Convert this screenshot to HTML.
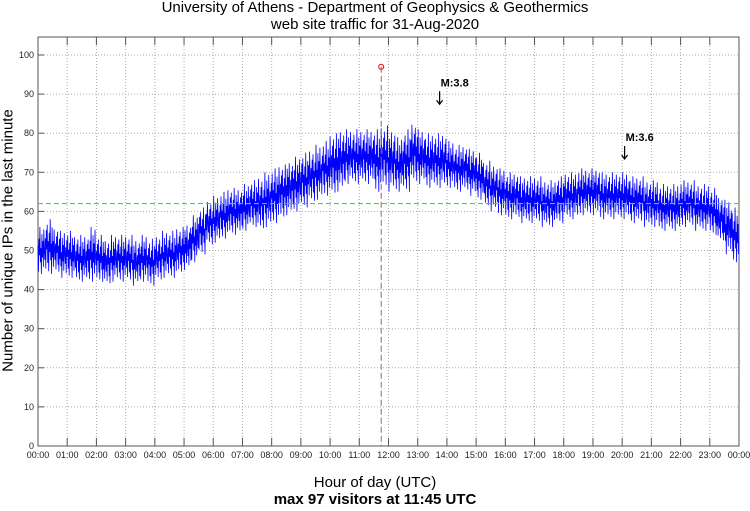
<!DOCTYPE html>
<html><head><meta charset="utf-8"><style>
body{margin:0;background:#fff;}
svg{display:block;font-family:"Liberation Sans",sans-serif;}
</style></head><body>
<svg id="c" width="750" height="511"></svg>
<script>
const hourLabels=["00:00","01:00","02:00","03:00","04:00","05:00","06:00","07:00","08:00","09:00","10:00","11:00","12:00","13:00","14:00","15:00","16:00","17:00","18:00","19:00","20:00","21:00","22:00","23:00","00:00"];
const yTicks=[0,10,20,30,40,50,60,70,80,90,100];
// 15-minute bin means (visitors)
const binMeans=[50,51,50,49, 49,48,48,49, 48,47,48,48, 48,47,48,47, 48,49,49,50, 51,53,55,57,
58,59,60,60, 61,62,62,63, 64,65,66,67, 68,69,70,71, 72,73,74,74, 74,74,73,74,
73,72,73,75, 74,73,73,73, 72,71,71,70, 69,67,66,65, 64,64,63,63, 63,62,62,63,
64,64,65,65, 65,64,64,64, 64,63,63,62, 62,61,61,61, 62,62,61,61, 60,58,56,54];
// 15-minute bin half-spread (noise amplitude)
const binSpread=[6,7,6,6, 6,6,6,7, 6,6,6,6, 6,6,6,6, 6,6,6,6, 6,6,6,6,
6,6,6,6, 6,6,7,7, 7,7,7,7, 7,7,7,7, 8,8,7,7, 7,7,8,8,
8,7,8,8, 7,7,7,7, 6,6,6,6, 6,6,6,6, 6,6,6,6, 6,6,6,6,
6,6,6,6, 6,6,6,6, 6,6,6,6, 6,6,6,6, 6,6,6,6, 6,6,7,7];
const jitterPattern=[0.2,-0.9,0.5,-0.2,1,-0.5,0.1,-1,0.7,-0.3,0.4,-0.7,0.9,0,-0.4,0.3,-0.8,0.6,-0.1,0.8,-0.6];
const avgValue=62, maxValue=97, maxMinute=705;
const quakes=[{label:"M:3.8",minute:825,value:92},{label:"M:3.6",minute:1205,value:78}];

const NS="http://www.w3.org/2000/svg", svg=document.getElementById('c');
const L=38,R=739,T=37,B=446;
const xs=m=>L+(R-L)*m/1440, ys=v=>B-(B-T)*v/104.6;
function mk(t,a,p){const e=document.createElementNS(NS,t);for(const k in a)e.setAttribute(k,a[k]);(p||svg).appendChild(e);return e;}
mk('rect',{x:L,y:T,width:R-L,height:B-T,fill:'#fff',stroke:'#555','stroke-width':1});
yTicks.forEach(v=>{const y=ys(v);
 if(v>0){const g=mk('line',{x1:L,x2:R,y1:y,y2:y,stroke:'#aaa','stroke-dasharray':'1,2'});}
 mk('line',{x1:L,x2:L+6,y1:y,y2:y,stroke:'#555'});
 const t=mk('text',{x:L-4,y:y+3,'font-size':9,'text-anchor':'end',fill:'#222'});t.textContent=v;
 });
hourLabels.forEach((s,i)=>{const x=xs(i*60);
 if(i>0&&i<24){const g=mk('line',{x1:x,x2:x,y1:T,y2:B,stroke:'#aaa','stroke-dasharray':'1,2'});
 mk('line',{x1:x,x2:x,y1:B,y2:B-8,stroke:'#555'});mk('line',{x1:x,x2:x,y1:T,y2:T+8,stroke:'#555'});}
 const t=mk('text',{x:x,y:B+12,'font-size':9,'text-anchor':'middle',fill:'#222'});t.textContent=s;
 });
// series
let pts=[];
for(let m=0;m<1440;m++){const b=Math.floor(m/15);const s=jitterPattern[m%jitterPattern.length]*binSpread[b];pts.push(xs(m).toFixed(1)+','+ys(binMeans[b]+s).toFixed(1));}
const line=mk('polyline',{points:pts.join(' '),fill:'none',stroke:'#0000ff','stroke-width':0.8});

const avg=mk('line',{x1:L,x2:R,y1:ys(avgValue),y2:ys(avgValue),stroke:'#22ee22','stroke-dasharray':'5,3','stroke-width':1.1});

const mx=xs(maxMinute);
const ml=mk('line',{x1:mx,x2:mx,y1:ys(maxValue),y2:B,stroke:'#996666','stroke-dasharray':'6,3'});

const mc=mk('circle',{cx:mx,cy:ys(maxValue),r:2.5,fill:'none',stroke:'#e00'});

quakes.forEach(q=>{const x=xs(q.minute),y=ys(q.value);
 const t=mk('text',{x:x+1,y:y,'font-size':11,'font-weight':'bold',fill:'#000'});t.textContent=q.label;
 
 const a=mk('path',{d:`M${x},${y+5} V${y+18} M${x-3},${y+14} L${x},${y+18} L${x+3},${y+14}`,stroke:'#000',fill:'none','stroke-width':1.2});
 });
</script>
<div style="position:absolute;left:0;top:-1px;width:750px;text-align:center;font:15px 'Liberation Sans',sans-serif;line-height:17px;">University of Athens - Department of Geophysics &amp; Geothermics<br>web site traffic for 31-Aug-2020</div>
<div style="position:absolute;left:0;top:474px;width:750px;text-align:center;font:15px 'Liberation Sans',sans-serif;line-height:17px;">Hour of day (UTC)<br><b>max 97 visitors at 11:45 UTC</b></div>
<div style="position:absolute;left:-152px;top:232px;width:320px;text-align:center;font:15px 'Liberation Sans',sans-serif;white-space:nowrap;transform:rotate(-90deg);">Number of unique IPs in the last minute</div>
</body></html>
